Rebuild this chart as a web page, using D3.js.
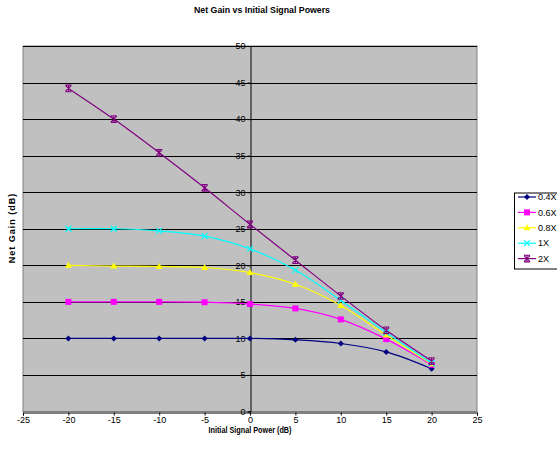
<!DOCTYPE html>
<html>
<head>
<meta charset="utf-8">
<script src="https://cdn.jsdelivr.net/npm/d3@7"></script>
<style>
  body { margin: 0; background: #fff; }
  svg { display: block; font-family: "Liberation Sans", Arial, sans-serif; }
</style>
</head>
<body>
<svg id="chart" width="557" height="457"></svg>
<script>
// Input signal power (dB) for every sample
const inputPower = [-20, -15, -10, -5, 0, 5, 10, 15, 20];

// Net gain (dB) per pump scaling
const gain04 = [10.0, 10.0, 10.0, 10.0, 10.0, 9.8, 9.3, 8.15, 5.85];
const gain06 = [15.0, 15.0, 15.0, 14.95, 14.7, 14.1, 12.6, 9.9, 6.4];
const gain08 = [20.0, 19.9, 19.85, 19.7, 19.0, 17.4, 14.5, 10.45, 6.5];
const gain1  = [25.0, 25.0, 24.7, 24.0, 22.25, 19.35, 15.2, 10.8, 6.6];
const gain2  = [44.2, 40.0, 35.4, 30.6, 25.6, 20.7, 15.8, 11.1, 6.9];

const seriesNames = ["0.4X", "0.6X", "0.8X", "1X", "2X"];
const seriesColors = ["#000080", "#FF00FF", "#FFFF00", "#00FFFF", "#800080"];
const seriesMarkers = ["diamond", "square", "triangle", "cross", "star"];

const xTicks = [-25, -20, -15, -10, -5, 0, 5, 10, 15, 20, 25];
const yTicks = [0, 5, 10, 15, 20, 25, 30, 35, 40, 45, 50];

const series = [gain04, gain06, gain08, gain1, gain2].map((vals, i) => ({
  name: seriesNames[i],
  color: seriesColors[i],
  marker: seriesMarkers[i],
  points: inputPower.map((x, j) => ({ x, y: vals[j] }))
}));

const svg = d3.select("#chart");
const plot = { left: 23, right: 477, top: 46, bottom: 411.5 };

const x = d3.scaleLinear().domain([-25, 25]).range([plot.left, plot.right]);
const y = d3.scaleLinear().domain([0, 50]).range([plot.bottom, plot.top]);

// Plot area
svg.append("rect")
  .attr("x", plot.left).attr("y", plot.top)
  .attr("width", plot.right - plot.left).attr("height", plot.bottom - plot.top)
  .attr("fill", "#C0C0C0").attr("stroke", "#808080").attr("stroke-width", 1);

// Horizontal gridlines
svg.append("g").selectAll("line")
  .data(yTicks.filter(t => t > 0))
  .join("line")
  .attr("x1", plot.left).attr("x2", plot.right)
  .attr("y1", d => Math.round(y(d)) + 0.5).attr("y2", d => Math.round(y(d)) + 0.5)
  .attr("stroke", "#000").attr("stroke-width", 1);

// X axis along the bottom
const xAxis = svg.append("g")
  .attr("transform", `translate(0,${Math.round(plot.bottom) + 0.5})`)
  .call(d3.axisBottom(x).tickValues(xTicks).tickSize(3).tickPadding(1).tickFormat(d => String(d)));
xAxis.select(".domain").attr("stroke", "#000");
xAxis.selectAll("text").attr("font-size", 9).attr("fill", "#000")
  .attr("font-family", "Liberation Sans, Arial, sans-serif");

// Y axis through x = 0
const yAxis = svg.append("g")
  .attr("transform", `translate(${Math.round(x(0)) + 0.5},0)`)
  .call(d3.axisLeft(y).tickValues(yTicks).tickSize(3).tickPadding(2).tickFormat(d => String(d)));
yAxis.select(".domain").attr("stroke", "#000");
yAxis.selectAll("text").attr("font-size", 9).attr("fill", "#000")
  .attr("font-family", "Liberation Sans, Arial, sans-serif");

// Series lines (smoothed)
const line = d3.line().x(d => x(d.x)).y(d => y(d.y)).curve(d3.curveCatmullRom.alpha(0.5));

svg.append("g").selectAll("path")
  .data(series)
  .join("path")
  .attr("d", d => line(d.points))
  .attr("fill", "none")
  .attr("stroke", d => d.color)
  .attr("stroke-width", 1.2);

// Marker drawing
function drawMarker(g, type, color) {
  const s = 3;
  if (type === "diamond") {
    g.append("path").attr("d", `M0,${-s} L${s},0 L0,${s} L${-s},0Z`).attr("fill", color);
  } else if (type === "square") {
    g.append("rect").attr("x", -3).attr("y", -3).attr("width", 6).attr("height", 6).attr("fill", color);
  } else if (type === "triangle") {
    g.append("path").attr("d", `M0,-3.5 L3.5,2.5 L-3.5,2.5Z`).attr("fill", color);
  } else if (type === "cross") {
    g.append("path").attr("d", `M-3,-3 L3,3 M-3,3 L3,-3`).attr("stroke", color).attr("stroke-width", 1.2);
  } else if (type === "star") {
    g.append("path").attr("d", `M-3,-3 L3,3 M-3,3 L3,-3 M-3,-3.3 L3,-3.3 M-3,3.3 L3,3.3 M0,-3.3 L0,3.3`)
      .attr("stroke", color).attr("stroke-width", 1.1);
  }
}

series.forEach(s => {
  const g = svg.append("g");
  s.points.forEach(p => {
    const m = g.append("g").attr("transform", `translate(${x(p.x)},${y(p.y)})`);
    drawMarker(m, s.marker, s.color);
  });
});

// Title
svg.append("text")
  .attr("x", 262).attr("y", 13)
  .attr("text-anchor", "middle")
  .attr("font-size", 9.5).attr("font-weight", "bold")
  .attr("textLength", 136).attr("lengthAdjust", "spacingAndGlyphs")
  .text("Net Gain vs Initial Signal Powers");

// Axis titles
svg.append("text")
  .attr("x", 250).attr("y", 433)
  .attr("text-anchor", "middle")
  .attr("font-size", 9).attr("font-weight", "bold")
  .attr("textLength", 83).attr("lengthAdjust", "spacingAndGlyphs")
  .text("Initial Signal Power (dB)");

svg.append("text")
  .attr("transform", "translate(15,228) rotate(-90)")
  .attr("text-anchor", "middle")
  .attr("font-size", 9).attr("font-weight", "bold")
  .attr("letter-spacing", 1)
  .text("Net Gain (dB)");

// Legend
const legend = svg.append("g").attr("transform", "translate(514,192.5)");
legend.append("rect")
  .attr("x", 0.5).attr("y", 0.5).attr("width", 45).attr("height", 76)
  .attr("fill", "#fff").attr("stroke", "#000");
series.forEach((s, i) => {
  const row = legend.append("g").attr("transform", `translate(0,${4.5 + i * 15.4})`);
  row.append("line").attr("x1", 4).attr("x2", 22).attr("y1", 0).attr("y2", 0)
    .attr("stroke", s.color).attr("stroke-width", 1.2);
  drawMarker(row.append("g").attr("transform", "translate(13,0)"), s.marker, s.color);
  row.append("text").attr("x", 24).attr("y", 3.2)
    .attr("font-size", 9).attr("fill", "#000").text(s.name);
});
</script>
</body>
</html>
